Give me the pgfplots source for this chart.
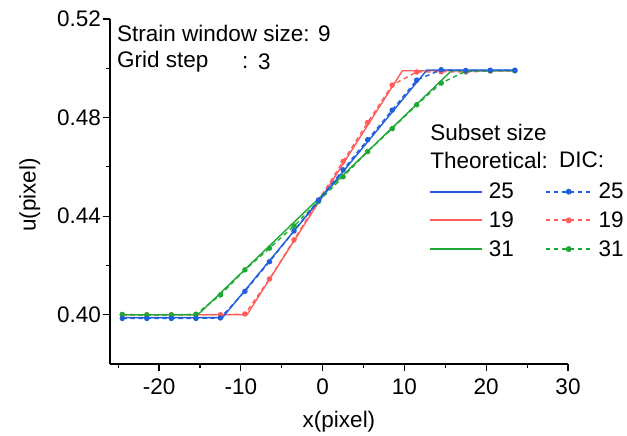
\documentclass[border=0pt]{standalone}
\usepackage{fontspec}
\setmainfont{Liberation Sans}
\usepackage{pgfplots}
\pgfplotsset{compat=1.18}
\definecolor{cblue}{RGB}{32,94,220}
\definecolor{cred}{RGB}{255,92,92}
\definecolor{cgreen}{RGB}{30,168,52}

\pgfplotsset{
  theoleg/.style={legend image code/.code={\draw[##1, line width=1.8bp] (0bp,0bp) -- (52bp,0bp);}},
  dicleg/.style={legend image code/.code={\draw[mark repeat=2, mark phase=2, ##1, line width=1.8bp] plot coordinates {(0bp,0bp) (23bp,0bp) (46bp,0bp)};}},
}

\pgfplotstableread{
x      red     blue    green
-24.5  0.4000  0.3985  0.4001
-21.5  0.4000  0.3985  0.3999
-18.5  0.4000  0.3985  0.3999
-15.5  0.4000  0.3985  0.4002
-12.5  0.4000  0.3987  0.4080
-9.5   0.4003  0.4095  0.4182
-6.5   0.4145  0.4215  0.4270
-3.5   0.4304  0.4340  0.4360
-0.5   0.4465  0.4465  0.4460
2.5    0.4622  0.4588  0.4560
5.5    0.4780  0.4710  0.4662
8.5    0.4932  0.4830  0.4755
11.5   0.4985  0.4952  0.4852
14.5   0.4986  0.4994  0.4940
17.5   0.4985  0.4991  0.4988
20.5   0.4989  0.4992  0.4990
23.5   0.4990  0.4992  0.4990
}\dic

\begin{document}
\begin{tikzpicture}[font=\fontsize{22.5bp}{27bp}\selectfont]
\begin{axis}[
    name=ax,
    scale only axis,
    width=458bp, height=345bp,
    xmin=-26, xmax=30, ymin=0.38, ymax=0.52,
    axis x line*=bottom, axis y line*=left,
    axis line style={line width=1.2bp},
    xtick={-20,-10,...,30}, minor xtick={-25,-15,...,25},
    ytick={0.40,0.44,0.48,0.52}, minor ytick={0.42,0.46,0.50},
    tick align=outside,
    major tick length=7bp, minor tick length=4bp,
    tick style={line width=1.2bp, black},
    /pgf/number format/assume math mode=true,
    yticklabel style={/pgf/number format/.cd,fixed,fixed zerofill,precision=2},
    tick label style={inner sep=2bp},
    xticklabel style={yshift=-6bp},
    xlabel={x(pixel)}, ylabel={u(pixel)},
    xlabel style={at={(axis description cs:0.5,-0.168)}, anchor=center},
    ylabel style={at={(axis description cs:-0.175,0.49)}, anchor=center},
    clip=false,
    legend columns=2,
    legend style={at={(rel axis cs:0.696,0.525)}, anchor=north west,
        draw=none, fill=none, inner sep=0pt,
        nodes={inner sep=0pt, anchor=west},
        row sep=11.5bp,
        /tikz/every odd column/.append style={column sep=6bp},
        /tikz/every even column/.append style={column sep=31bp}},
    theo/.style={line width=1.4bp, no markers},
    dic/.style={line width=1.4bp, dash pattern=on 4.5bp off 3.5bp, mark=*, mark size=2bp, mark options={solid}},
]
% theoretical profiles and DIC results
\addplot[theo, cred, forget plot] coordinates {(-24.5,0.400) (-9.25,0.400) (9.75,0.499) (23.5,0.499)};
\addplot[dic, cred, forget plot] table[x=x, y=red] {\dic};
\addplot[theo, cgreen, forget plot] coordinates {(-24.5,0.400) (-15.25,0.400) (15.75,0.499) (23.5,0.499)};
\addplot[dic, cgreen, forget plot] table[x=x, y=green] {\dic};
\addplot[theo, cblue, forget plot] coordinates {(-24.5,0.3988) (-12.25,0.3988) (12.75,0.4993) (23.5,0.4993)};
\addplot[dic, cblue, forget plot] table[x=x, y=blue] {\dic};

% legend
\addlegendimage{theo, cblue, theoleg}
\addlegendentry{25}
\addlegendimage{dic, cblue, dicleg}
\addlegendentry{25}
\addlegendimage{theo, cred, theoleg}
\addlegendentry{19}
\addlegendimage{dic, cred, dicleg}
\addlegendentry{19}
\addlegendimage{theo, cgreen, theoleg}
\addlegendentry{31}
\addlegendimage{dic, cgreen, dicleg}
\addlegendentry{31}

\node[anchor=west, inner sep=0pt] at (rel axis cs:0.699,0.670) {Subset size};
\node[anchor=west, inner sep=0pt] at (rel axis cs:0.699,0.591) {Theoretical:};
\node[anchor=west, inner sep=0pt] at (rel axis cs:0.980,0.591) {DIC:};
\node[anchor=west, inner sep=0pt] at (rel axis cs:0.0153,0.959) {Strain window size: 9};
\node[anchor=west, inner sep=0pt] at (rel axis cs:0.0153,0.875) {Grid step};
\node[anchor=west, inner sep=0pt] at (rel axis cs:0.288,0.875) {:};
\node[anchor=west, inner sep=0pt] at (rel axis cs:0.323,0.875) {3};
\end{axis}
\path (ax.south west) ++(-110bp,-70bp) rectangle ++(627bp,434bp);
\end{tikzpicture}
\end{document}
